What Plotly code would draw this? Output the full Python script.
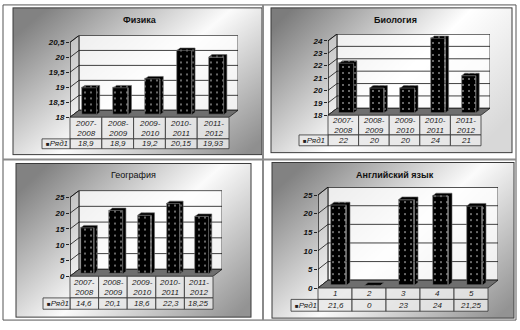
import base64
import plotly.graph_objects as go

W, H = 520, 330

# ---------------- data ----------------
years = ["2007-2008", "2008-2009", "2009-2010", "2010-2011", "2011-2012"]
english_labels = ["1", "2", "3", "4", "5"]
physics = [18.9, 18.9, 19.2, 20.15, 19.93]
biology = [22, 20, 20, 24, 21]
geography = [14.6, 20.1, 18.6, 22.3, 18.25]
english = [21.6, 0, 23, 24, 21.25]
titles = ["Физика", "Биология", "География", "Английский язык"]
series_name = "Ряд1"
ticks_physics = [18, 18.5, 19, 19.5, 20, 20.5]
ticks_biology = [18, 19, 20, 21, 22, 23, 24]
ticks_geography = [0, 5, 10, 15, 20, 25]
ticks_english = [0, 5, 10, 15, 20, 25]

# ---------------- layout geometry (pixels) ----------------
panels = [
    dict(cats=years, vals=physics, ticks=ticks_physics, title=titles[0], bold=True,
         box=(13, 8, 262, 157), tpos=(140, 20), xl=70, xr=229, yb=119, yt=43,
         dx=9, dy=7, r1=141, r2=151, hdr=42, grad=("0", "0.2", "1", "0.9"),
         stops=[(0, "#828282"), (0.5, "#fbfbfb"), (1, "#8f8f8f")]),
    dict(cats=years, vals=biology, ticks=ticks_biology, title=titles[1], bold=True,
         box=(271, 8, 512, 155), tpos=(395, 20), xl=328, xr=481, yb=117, yt=41.5,
         dx=9, dy=7, r1=137, r2=148, hdr=299, grad=("0", "0.15", "1", "0.75"),
         stops=[(0, "#7c7c7c"), (0.55, "#ffffff"), (1, "#d8d8d8")]),
    dict(cats=years, vals=geography, ticks=ticks_geography, title=titles[2], bold=False,
         box=(16, 166, 251, 322), tpos=(133, 178), xl=70, xr=213, yb=280.5, yt=200.5,
         dx=9, dy=7, r1=302.5, r2=314, hdr=43, grad=("0", "0.2", "1", "0.9"),
         stops=[(0, "#828282"), (0.5, "#fbfbfb"), (1, "#939393")]),
    dict(cats=english_labels, vals=english, ticks=ticks_english, title=titles[3], bold=True,
         box=(272, 165, 514, 323), tpos=(395, 178), xl=318, xr=488, yb=292.5, yt=198,
         dx=10, dy=8, r1=304, r2=316, hdr=291, grad=("0", "0.2", "1", "0.9"),
         stops=[(0, "#828282"), (0.5, "#fbfbfb"), (1, "#939393")]),
]

FONT = "Liberation Sans, Arial, sans-serif"


def P(x):
    return x / W


def Q(y):
    return 1 - y / H


def fmt(v):
    return f"{v:g}".replace(".", ",")


# ---------------- background (gradient panels) ----------------
defs = []
rects = []
for k, p in enumerate(panels):
    x1, y1, x2, y2 = p["grad"]
    st = "".join(f"<stop offset='{o}' stop-color='{c}'/>" for o, c in p["stops"])
    defs.append(f"<linearGradient id='g{k}' x1='{x1}' y1='{y1}' x2='{x2}' y2='{y2}'>{st}</linearGradient>")
    bx0, by0, bx1, by1 = p["box"]
    rects.append(f"<rect x='{bx0}' y='{by0}' width='{bx1-bx0}' height='{by1-by0}' "
                 f"fill='url(#g{k})' stroke='#3a3a3a' stroke-width='1'/>")
svg = (f"<svg xmlns='http://www.w3.org/2000/svg' width='{W}' height='{H}' viewBox='0 0 {W} {H}'>"
       f"<defs>{''.join(defs)}</defs>{''.join(rects)}</svg>")
src = "data:image/svg+xml;base64," + base64.b64encode(svg.encode()).decode()

fig = go.Figure()
shapes = []
annotations = []

# outer frame + separators
shapes.append(dict(type="rect", xref="paper", yref="paper", x0=P(3), x1=P(516), y0=Q(325), y1=Q(5),
                   line=dict(color="#555", width=1), layer="below"))
shapes.append(dict(type="line", xref="paper", yref="paper", x0=P(263), x1=P(263), y0=Q(325), y1=Q(5),
                   line=dict(color="#8a8a8a", width=2), layer="below"))
shapes.append(dict(type="line", xref="paper", yref="paper", x0=P(3), x1=P(516), y0=Q(162), y1=Q(162),
                   line=dict(color="#8a8a8a", width=2), layer="below"))

pattern = dict(shape=".", fgcolor="white", bgcolor="black", size=6, solidity=0.05, fillmode="replace")

for k, p in enumerate(panels):
    n = k + 1
    xa = "x" if n == 1 else f"x{n}"
    ya = "y" if n == 1 else f"y{n}"
    ticks = p["ticks"]
    ymin, ymax = ticks[0], ticks[-1]
    ncat = len(p["cats"])
    colW = (p["xr"] - p["xl"]) / ncat
    ppu = (p["yb"] - p["yt"]) / (ymax - ymin)
    ddx = p["dx"] / colW
    ddy = p["dy"] / ppu
    xr0, xr1 = -0.5, ncat - 0.5

    fig.update_layout(**{
        ("xaxis" if n == 1 else f"xaxis{n}"): dict(
            domain=[P(p["xl"]), P(p["xr"] + p["dx"])], range=[xr0, xr1 + ddx],
            visible=False, anchor=ya, fixedrange=True),
        ("yaxis" if n == 1 else f"yaxis{n}"): dict(
            domain=[Q(p["yb"]), Q(p["yt"] - p["dy"])], range=[ymin, ymax + ddy],
            anchor=xa, showgrid=False, zeroline=False, showline=False,
            ticks="outside", ticklen=3, tickwidth=0.8, tickcolor="#222",
            tickvals=ticks, ticktext=[fmt(t) for t in ticks],
            tickfont=dict(family=FONT, size=8, color="#111", style="italic", weight="bold"),
            fixedrange=True),
    })

    # walls / floor
    bw_x0, bw_x1 = xr0 + ddx, xr1 + ddx
    shapes.append(dict(type="rect", xref=xa, yref=ya, x0=bw_x0, x1=bw_x1, y0=ymin + ddy, y1=ymax + ddy,
                       fillcolor="rgba(255,255,255,0.8)", line=dict(color="#222", width=0.8), layer="below"))
    shapes.append(dict(type="path", xref=xa, yref=ya,
                       path=f"M{xr0},{ymin} L{bw_x0},{ymin+ddy} L{bw_x0},{ymax+ddy} L{xr0},{ymax} Z",
                       fillcolor="rgba(255,255,255,0.3)", line=dict(color="#222", width=0.8), layer="below"))
    for t in ticks:
        shapes.append(dict(type="line", xref=xa, yref=ya, x0=bw_x0, x1=bw_x1, y0=t + ddy, y1=t + ddy,
                           line=dict(color="#111", width=0.8), layer="below"))
        shapes.append(dict(type="line", xref=xa, yref=ya, x0=xr0, x1=bw_x0, y0=t, y1=t + ddy,
                           line=dict(color="#111", width=0.8), layer="below"))
    shapes.append(dict(type="path", xref=xa, yref=ya,
                       path=f"M{xr0},{ymin} L{xr1},{ymin} L{bw_x1},{ymin+ddy} L{bw_x0},{ymin+ddy} Z",
                       fillcolor="#6e6e6e", line=dict(color="#222", width=0.8), layer="below"))
    shapes.append(dict(type="line", xref=xa, yref=ya, x0=xr0, x1=xr0, y0=ymin, y1=ymax,
                       line=dict(color="#111", width=1), layer="below"))

    # 3D bars
    f_off, f_dep, bw = 0.35, 0.35, 0.47
    sx, sy = ddx * f_off, ddy * f_off
    bdx, bdy = ddx * f_dep, ddy * f_dep
    hx, hy = [], []
    for i, v in enumerate(p["vals"]):
        xc = i + sx
        x0, x1 = xc - bw / 2, xc + bw / 2
        b = ymin + sy
        t = b + (v - ymin)
        hx += [x0, x0 + bdx, x1 + bdx, x1 + bdx, x1, x1, x0, None]
        hy += [t, t + bdy, t + bdy, b + bdy, b, t, t, None]
    fig.add_trace(go.Scatter(x=hx, y=hy, mode="lines", fill="toself", fillcolor="black",
                             fillpattern=dict(shape=".", fgcolor="#cccccc", bgcolor="black",
                                              size=6, solidity=0.05, fillmode="replace"),
                             line=dict(color="#666", width=0.6), xaxis=xa, yaxis=ya,
                             hoverinfo="skip", showlegend=False))
    fig.add_trace(go.Bar(x=[i + sx for i in range(ncat)], y=[v - ymin for v in p["vals"]],
                         base=ymin + sy, width=bw, name=series_name,
                         marker=dict(color="black", pattern=pattern, line=dict(color="#777", width=0.6)),
                         xaxis=xa, yaxis=ya, hoverinfo="skip", showlegend=False))

    # title
    annotations.append(dict(xref="paper", yref="paper", x=P(p["tpos"][0]), y=Q(p["tpos"][1]),
                            text=p["title"], showarrow=False,
                            font=dict(family=FONT, size=9, color="#111",
                                      weight="bold" if p["bold"] else "normal"),
                            xanchor="center", yanchor="middle"))

    # data table
    cell = dict(fillcolor="rgba(232,232,232,0.85)", line=dict(color="#333", width=0.8), layer="below")
    for i in range(ncat):
        cx0 = p["xl"] + i * colW
        cx1 = cx0 + colW
        shapes.append(dict(type="rect", xref="paper", yref="paper", x0=P(cx0), x1=P(cx1),
                           y0=Q(p["r1"]), y1=Q(p["yb"]), **cell))
        shapes.append(dict(type="rect", xref="paper", yref="paper", x0=P(cx0), x1=P(cx1),
                           y0=Q(p["r2"]), y1=Q(p["r1"]), **cell))
        lab = p["cats"][i].replace("-", "-<br>")
        annotations.append(dict(xref="paper", yref="paper", x=P((cx0 + cx1) / 2),
                                y=Q((p["yb"] + p["r1"]) / 2), text=lab, showarrow=False,
                                font=dict(family=FONT, size=8, color="#222", style="italic"),
                                xanchor="center", yanchor="middle"))
        annotations.append(dict(xref="paper", yref="paper", x=P((cx0 + cx1) / 2),
                                y=Q((p["r1"] + p["r2"]) / 2), text=fmt(p["vals"][i]), showarrow=False,
                                font=dict(family=FONT, size=8, color="#222", style="italic"),
                                xanchor="center", yanchor="middle"))
    shapes.append(dict(type="rect", xref="paper", yref="paper", x0=P(p["hdr"]), x1=P(p["xl"]),
                       y0=Q(p["r2"]), y1=Q(p["r1"]), **cell))
    annotations.append(dict(xref="paper", yref="paper", x=P(p["hdr"] + 2), y=Q((p["r1"] + p["r2"]) / 2),
                            text="<span style='font-size:6px;font-style:normal'>■</span>" + series_name,
                            showarrow=False,
                            font=dict(family=FONT, size=8, color="#222", style="italic"),
                            xanchor="left", yanchor="middle"))

fig.update_layout(
    width=W, height=H, margin=dict(l=0, r=0, t=0, b=0),
    paper_bgcolor="white", plot_bgcolor="rgba(0,0,0,0)",
    showlegend=False, shapes=shapes, annotations=annotations,
    images=[dict(source=src, xref="paper", yref="paper", x=0, y=1, sizex=1, sizey=1,
                 xanchor="left", yanchor="top", sizing="stretch", layer="below")],
    bargap=0,
)

fig.write_html("out.html")
